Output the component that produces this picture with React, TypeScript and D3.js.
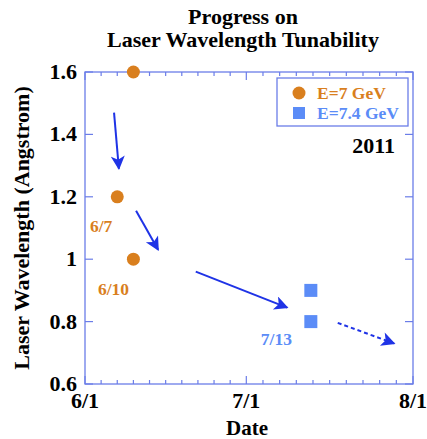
import React, { useEffect, useRef } from 'react';
import * as d3 from 'd3';

// E=7 GeV points
const e7Dates = ['2011-06-10', '2011-06-07', '2011-06-10'];
const e7Values = [1.6, 1.2, 1.0];
// E=7.4 GeV points
const e74Dates = ['2011-07-13', '2011-07-13'];
const e74Values = [0.9, 0.8];

// point labels (position in days after 6/1, value)
const labelTexts = ['6/7', '6/10', '7/13'];
const labelDays = [3.0, 5.3, 35.6];
const labelValues = [1.087, 0.885, 0.725];

// arrows: [day, value] start / end, days after 6/1
const arrowStart = [[5.4, 1.47], [9.5, 1.155], [20.6, 0.96], [47.0, 0.796]];
const arrowEnd = [[6.3, 1.29], [13.6, 1.03], [37.6, 0.845], [57.5, 0.73]];
const arrowDashed = [false, false, false, true];

const yTicks = [0.6, 0.8, 1, 1.2, 1.4, 1.6];
const xTickLabels = ['6/1', '7/1', '8/1'];
const xTickDates = ['2011-06-01', '2011-07-01', '2011-08-01'];

const ORANGE = '#d97f1e';
const LBLUE = '#5b8cf7';
const ABLUE = '#1f33e6';
const AXIS = '#6b7de8';
const FONT = '"Liberation Serif", "Times New Roman", serif';

const parse = (s: string) => new Date(s + 'T00:00:00');

const draw = (node: SVGSVGElement) => {
  const svg = d3.select(node);
  svg.selectAll('*').remove();

  const margin = { top: 72, right: 14, bottom: 55, left: 85 };
  const width = 427, height = 439;
  const x = d3.scaleTime().domain([parse('2011-06-01'), parse('2011-08-01')]).range([margin.left, width - margin.right]);
  const y = d3.scaleLinear().domain([0.6, 1.6]).range([height - margin.bottom, margin.top]);
  const day0 = parse('2011-06-01');
  const xd = (d: number) => x(new Date(day0.getTime() + d * 86400000));

  const defs = svg.append('defs');
  defs.append('marker').attr('id', 'ah').attr('viewBox', '0 0 10 10').attr('refX', 9).attr('refY', 5)
    .attr('markerWidth', 18).attr('markerHeight', 14).attr('markerUnits', 'userSpaceOnUse')
    .attr('orient', 'auto')
    .append('path').attr('d', 'M0,0 L10,5 L0,10 L2.5,5 Z').attr('fill', ABLUE);

  // title
  const title = svg.append('text').attr('text-anchor', 'middle').attr('font-family', FONT)
    .attr('font-weight', 'bold').attr('font-size', 22).attr('fill', '#000');
  title.append('tspan').attr('x', 243).attr('y', 24).text('Progress on');
  title.append('tspan').attr('x', 243).attr('y', 47).text('Laser Wavelength Tunability');

  const x0 = margin.left, x1 = width - margin.right;
  const y0 = height - margin.bottom, y1 = margin.top;

  // frame
  svg.append('rect').attr('x', x0).attr('y', y1).attr('width', x1 - x0).attr('height', y0 - y1)
    .attr('fill', 'none').attr('stroke', AXIS).attr('stroke-width', 1.3);

  // x ticks: 10 intervals per month
  const minor: Date[] = [];
  const monthBounds = [parse('2011-06-01'), parse('2011-07-01'), parse('2011-08-01')];
  for (let m = 0; m < 2; m++) {
    const a = monthBounds[m].getTime(), b = monthBounds[m + 1].getTime();
    for (let i = 1; i < 10; i++) minor.push(new Date(a + (b - a) * i / 10));
  }
  const g = svg.append('g').attr('stroke', AXIS).attr('stroke-width', 1.2);
  minor.forEach(d => {
    g.append('line').attr('x1', x(d)).attr('x2', x(d)).attr('y1', y0).attr('y2', y0 - 4);
    g.append('line').attr('x1', x(d)).attr('x2', x(d)).attr('y1', y1).attr('y2', y1 + 4);
  });
  xTickDates.forEach(s => {
    const d = parse(s);
    g.append('line').attr('x1', x(d)).attr('x2', x(d)).attr('y1', y0).attr('y2', y0 - 8);
    g.append('line').attr('x1', x(d)).attr('x2', x(d)).attr('y1', y1).attr('y2', y1 + 8);
  });
  yTicks.forEach(v => {
    g.append('line').attr('x1', x0).attr('x2', x0 + 8).attr('y1', y(v)).attr('y2', y(v));
    g.append('line').attr('x1', x1).attr('x2', x1 - 8).attr('y1', y(v)).attr('y2', y(v));
  });

  // tick labels
  svg.append('g').selectAll('text').data(yTicks).join('text')
    .attr('x', x0 - 8).attr('y', d => y(d) + 7).attr('text-anchor', 'end')
    .attr('font-family', FONT).attr('font-weight', 'bold').attr('font-size', 22)
    .text(d => String(d));
  svg.append('g').selectAll('text').data(xTickDates).join('text')
    .attr('x', d => x(parse(d))).attr('y', y0 + 24).attr('text-anchor', 'middle')
    .attr('font-family', FONT).attr('font-weight', 'bold').attr('font-size', 22)
    .text((d, i) => xTickLabels[i]);

  // axis titles
  svg.append('text').attr('x', 247).attr('y', y0 + 51).attr('text-anchor', 'middle')
    .attr('font-family', FONT).attr('font-weight', 'bold').attr('font-size', 21).text('Date');
  svg.append('text').attr('transform', `translate(29,${(y0 + y1) / 2}) rotate(-90)`)
    .attr('text-anchor', 'middle').attr('font-family', FONT).attr('font-weight', 'bold')
    .attr('font-size', 22).text('Laser Wavelength (Angstrom)');

  // arrows
  arrowStart.forEach((s, i) => {
    const e = arrowEnd[i];
    svg.append('line').attr('x1', xd(s[0])).attr('y1', y(s[1])).attr('x2', xd(e[0])).attr('y2', y(e[1]))
      .attr('stroke', ABLUE).attr('stroke-width', 2)
      .attr('stroke-dasharray', arrowDashed[i] ? '4,3' : null)
      .attr('marker-end', 'url(#ah)');
  });

  // points
  svg.append('g').selectAll('circle').data(e7Dates).join('circle')
    .attr('cx', d => x(parse(d))).attr('cy', (d, i) => y(e7Values[i])).attr('r', 6.5).attr('fill', ORANGE);
  svg.append('g').selectAll('rect').data(e74Dates).join('rect')
    .attr('x', d => x(parse(d)) - 6.5).attr('y', (d, i) => y(e74Values[i]) - 6.5)
    .attr('width', 13).attr('height', 13).attr('fill', LBLUE);

  // point labels
  svg.append('g').selectAll('text').data(labelTexts).join('text')
    .attr('x', (d, i) => xd(labelDays[i])).attr('y', (d, i) => y(labelValues[i]))
    .attr('text-anchor', 'middle').attr('font-family', FONT).attr('font-weight', 'bold')
    .attr('font-size', 17.5).attr('fill', (d, i) => (i < 2 ? ORANGE : LBLUE)).text(d => d);

  // legend
  const lg = svg.append('g');
  lg.append('rect').attr('x', 277).attr('y', 78).attr('width', 131).attr('height', 48)
    .attr('fill', '#fff').attr('stroke', AXIS).attr('stroke-width', 1.3);
  lg.append('circle').attr('cx', 299).attr('cy', 93).attr('r', 6.5).attr('fill', ORANGE);
  lg.append('rect').attr('x', 293).attr('y', 107).attr('width', 12).attr('height', 12).attr('fill', LBLUE);
  lg.append('text').attr('x', 317).attr('y', 99).attr('font-family', FONT).attr('font-weight', 'bold')
    .attr('font-size', 17.5).attr('fill', ORANGE).text('E=7 GeV');
  lg.append('text').attr('x', 317).attr('y', 119).attr('font-family', FONT).attr('font-weight', 'bold')
    .attr('font-size', 17.5).attr('fill', LBLUE).text('E=7.4 GeV');

  svg.append('text').attr('x', 395).attr('y', 153).attr('text-anchor', 'end').attr('font-family', FONT)
    .attr('font-weight', 'bold').attr('font-size', 22).text('2011');
};

export default function App() {
  const ref = useRef<SVGSVGElement>(null);
  useEffect(() => {
    if (ref.current) draw(ref.current);
  }, []);
  return (
    <svg ref={ref} width={427} height={439}
      style={{ position: 'absolute', left: 0, top: 0, background: '#fff' }} />
  );
}
